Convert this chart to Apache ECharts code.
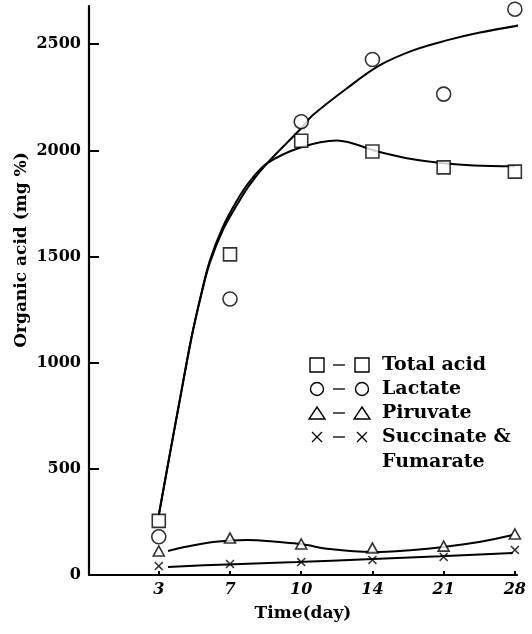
<!DOCTYPE html>
<html>
<head>
<meta charset="utf-8">
<script src="https://cdn.jsdelivr.net/npm/echarts@6/dist/echarts.min.js"></script>
<style>
  html, body { margin: 0; padding: 0; background: #fff; }
  #chart { width: 532px; height: 634px; }
</style>
</head>
<body>
<div id="chart"></div>
<script>
// Sampling days (equally spaced on the axis)
const days = ['3', '7', '10', '14', '21', '28'];
const yTicks = [0, 500, 1000, 1500, 2000, 2500];

// Measured organic acid contents (mg %)
const totalAcid = [255, 1510, 2045, 1995, 1920, 1900];
const lactate = [180, 1300, 2135, 2428, 2265, 2665];
const piruvate = [113, 174, 146, 127, 136, 193];
const succinateFumarate = [42, 52, 61, 71, 85, 118];

// Hand-fitted trend curves: [day position, mg %]
const totalCurve = [[0, 282], [0.15, 560], [0.295, 824], [0.46, 1120], [0.6, 1330], [0.716, 1480], [0.9, 1640], [1.1, 1765], [1.28, 1855], [1.52, 1939], [2.0, 2015], [2.5, 2047], [3.07, 1995], [3.57, 1958], [4.0, 1939], [4.42, 1929], [5.0, 1925]];
const lactateCurve = [[0, 282], [0.15, 560], [0.295, 824], [0.46, 1120], [0.6, 1325], [0.716, 1470], [0.9, 1625], [1.1, 1745], [1.28, 1840], [1.52, 1939], [2.0, 2104], [2.16, 2165], [2.64, 2292], [3.1, 2400], [3.57, 2471], [4.04, 2518], [4.51, 2555], [5.14, 2593]];
const piruvateCurve = [[0.13, 113], [0.3, 127], [0.76, 155], [1.24, 165], [1.7, 155], [2.0, 146], [2.4, 122], [3.0, 108], [3.57, 118], [4.0, 132], [4.5, 155], [4.97, 188]];
const succinateCurve = [[0.13, 38], [0.96, 50], [1.94, 61], [2.92, 74], [3.95, 88], [4.97, 104]];

const legendNames = ['Total acid', 'Lactate', 'Piruvate', 'Succinate &\nFumarate'];

const SERIF = '"DejaVu Serif", "Liberation Serif", serif';
const CROSS = 'path://M0,1.2L1.2,0L5,3.8L8.8,0L10,1.2L6.2,5L10,8.8L8.8,10L5,6.2L1.2,10L0,8.8L3.8,5Z';

const toPoints = arr => arr.map((v, i) => [i, v]);

const chart = echarts.init(document.getElementById('chart'), null, { renderer: 'canvas' });

function curveSeries(data, clip) {
  return {
    type: 'line', data: data, smooth: 0.35, showSymbol: false, clip: clip,
    lineStyle: { color: '#000', width: 2 }, silent: true, z: 2
  };
}
function markerSeries(values, symbol, size, filled) {
  return {
    type: 'scatter', data: toPoints(values), symbol: symbol, symbolSize: size, clip: false,
    itemStyle: filled ? { color: '#000' } : { color: '#fff', borderColor: '#000', borderWidth: 1.6 },
    z: 3
  };
}

// Legend: symbol – symbol, then the label
const legendRowsY = [365, 389, 413, 437];
const legendGraphics = [];
legendRowsY.forEach((y, i) => {
  [317, 362].forEach(cx => {
    if (i === 0) {
      legendGraphics.push({ type: 'rect', shape: { x: cx - 7, y: y - 7, width: 14, height: 14 }, style: { fill: '#fff', stroke: '#000', lineWidth: 1.4 } });
    } else if (i === 1) {
      legendGraphics.push({ type: 'circle', shape: { cx: cx, cy: y, r: 6.5 }, style: { fill: '#fff', stroke: '#000', lineWidth: 1.4 } });
    } else if (i === 2) {
      legendGraphics.push({ type: 'polygon', shape: { points: [[cx, y - 6], [cx + 8, y + 6], [cx - 8, y + 6]] }, style: { fill: '#fff', stroke: '#000', lineWidth: 1.4 } });
    } else {
      legendGraphics.push({ type: 'line', shape: { x1: cx - 5, y1: y - 5, x2: cx + 5, y2: y + 5 }, style: { stroke: '#000', lineWidth: 1.3 } });
      legendGraphics.push({ type: 'line', shape: { x1: cx - 5, y1: y + 5, x2: cx + 5, y2: y - 5 }, style: { stroke: '#000', lineWidth: 1.3 } });
    }
  });
  legendGraphics.push({ type: 'line', shape: { x1: 333, y1: y, x2: 345, y2: y }, style: { stroke: '#000', lineWidth: 1.3 } });
  legendGraphics.push({
    type: 'text', x: 382, y: y,
    style: { text: legendNames[i], font: 'bold 19px ' + SERIF, fill: '#000', verticalAlign: 'middle', lineHeight: 25 }
  });
});
// The two-line label is anchored at its first line
legendGraphics[legendGraphics.length - 1].y = 437 - 12;
legendGraphics[legendGraphics.length - 1].style.verticalAlign = 'top';

// Vertical axis title
legendGraphics.push({
  type: 'text', x: 22, y: 250, rotation: Math.PI / 2,
  style: { text: 'Organic acid (mg %)', font: 'bold 17px ' + SERIF, fill: '#000', align: 'center', verticalAlign: 'middle' }
});

chart.setOption({
  animation: false,
  backgroundColor: '#fff',
  grid: { left: 89, right: 15, top: 6, bottom: 59 },
  xAxis: {
    type: 'value', min: -0.98, max: 5.03,
    name: 'Time(day)', nameLocation: 'middle', nameGap: 30,
    nameTextStyle: { fontFamily: SERIF, fontWeight: 'bold', fontSize: 17, color: '#000' },
    axisLine: { show: true, onZero: false, lineStyle: { color: '#000', width: 2.2 } },
    axisTick: { show: true, inside: true, length: 4, customValues: [0, 1, 2, 3, 4, 5], lineStyle: { color: '#000', width: 2 } },
    axisLabel: {
      customValues: [0, 1, 2, 3, 4, 5], margin: 7,
      formatter: v => days[Math.round(v)],
      fontFamily: SERIF, fontWeight: 'bold', fontStyle: 'italic', fontSize: 16, color: '#000'
    },
    splitLine: { show: false }
  },
  yAxis: {
    type: 'value', min: 0, max: 2680,
    axisLine: { show: true, onZero: false, lineStyle: { color: '#000', width: 2.2 } },
    axisTick: { show: true, inside: true, length: 10, customValues: yTicks.slice(1), lineStyle: { color: '#000', width: 2 } },
    axisLabel: {
      customValues: yTicks, margin: 8,
      formatter: v => String(v),
      fontFamily: SERIF, fontWeight: 'bold', fontSize: 16, color: '#000'
    },
    splitLine: { show: false }
  },
  graphic: legendGraphics,
  series: [
    curveSeries(totalCurve, true),
    curveSeries(lactateCurve, false),
    curveSeries(piruvateCurve, true),
    curveSeries(succinateCurve, true),
    markerSeries(totalAcid, 'rect', 13, false),
    markerSeries(lactate, 'circle', 14, false),
    markerSeries(piruvate, 'triangle', [11, 10], false),
    markerSeries(succinateFumarate, CROSS, 9, true)
  ]
});
</script>
</body>
</html>
